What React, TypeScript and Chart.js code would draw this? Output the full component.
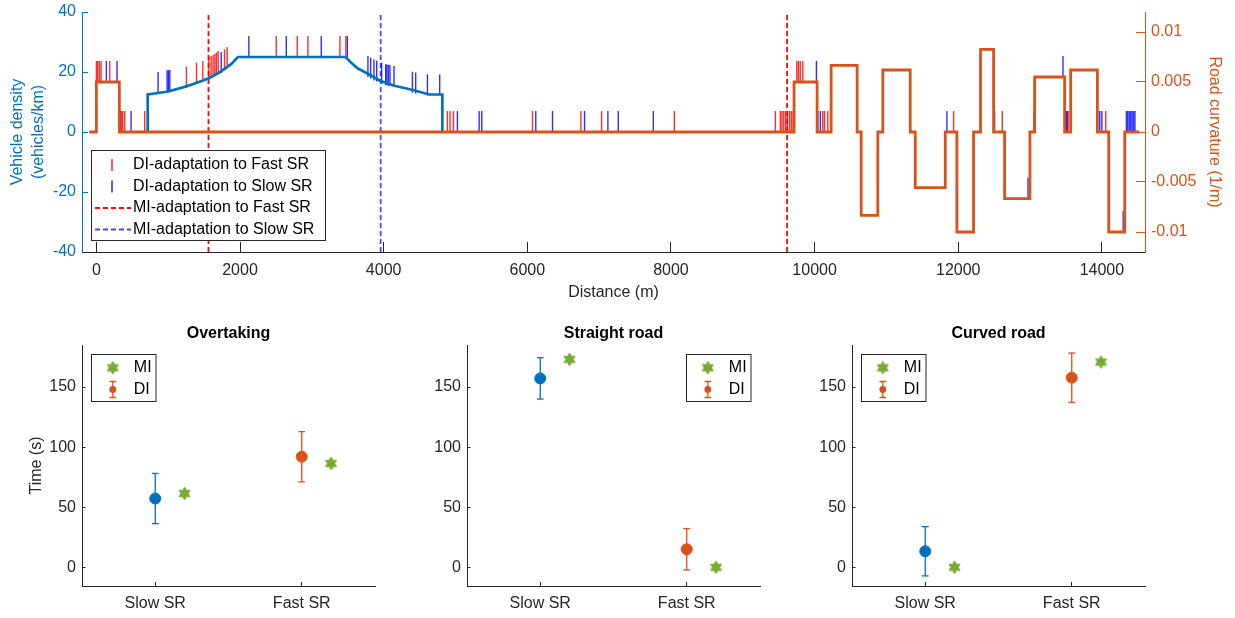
import React, { useEffect, useRef } from 'react';
import { Chart, registerables } from 'chart.js';
Chart.register(...registerables);

const FONT = "'Liberation Sans', Arial, Helvetica, sans-serif";
Chart.defaults.font.family = FONT;
Chart.defaults.font.size = 16;

const BLUE = '#0072BD';
const ORANGE = '#D95319';
const GREEN = '#77AC30';
const AXIS = '#262626';
const FAST_TICK = 'rgba(255,0,0,0.82)';
const SLOW_TICK = 'rgba(0,0,255,0.82)';
const MI_FAST_COLOR = '#FF0000';
const MI_SLOW_COLOR = '#4646FF';

// ---------------- Top chart data ----------------
const DIST_TICKS = [0, 2000, 4000, 6000, 8000, 10000, 12000, 14000];
const DENSITY_TICKS = [-40, -20, 0, 20, 40];
const CURV_TICKS = [-0.01, -0.005, 0, 0.005, 0.01];
const CURV_TICK_LABELS = ['-0.01', '-0.005', '0', '0.005', '0.01'];

// road curvature (1/m), step profile: value holds from x[i] to x[i+1]
const CURV_X = [-100, 0, 320, 9714, 10035, 10230, 10592, 10648, 10880, 10950, 11331, 11401, 11819, 11981, 12213, 12310, 12492, 12645, 12998, 13063, 13481, 13565, 13937, 14095, 14318, 14520];
const CURV_Y = [0, 0.005, 0, 0.005, 0, 0.00667, 0, -0.00833, 0, 0.0062, 0, -0.00557, 0, -0.01, 0, 0.00827, 0, -0.00667, 0, 0.0055, 0, 0.0062, 0, -0.01, 0, 0];

// vehicle density (vehicles/km)
const DENS_X = [715, 715, 859, 1000, 1264, 1400, 1565, 1700, 1775, 1880, 1970, 3470, 3560, 3633, 3781, 3958, 4150, 4422, 4631, 4817, 4817];
const DENS_Y = [0, 12.5, 13.0, 13.5, 15.3, 16.4, 17.9, 19.6, 20.9, 22.7, 25, 25, 22.8, 21.3, 19.4, 17.0, 15.4, 13.9, 12.5, 12.5, 0];

// DI-adaptation events: [distance, marker centre (vehicles/km)]
const DI_FAST: [number, number][] = [
  [0, 20.2], [18, 20.2], [42, 20.2], [65, 20.2], [186, 20.2],
  [348, 3.5], [367, 3.5], [395, 3.5], [673, 3.5],
  [1254, 18.3], [1394, 19.6], [1482, 20.2], [1566, 21.5], [1598, 21.8], [1625, 22.2], [1650, 22.6], [1672, 23.0], [1696, 23.5], [1784, 24.1], [1821, 24.8],
  [2504, 28.5], [2797, 28.5], [2945, 28.5], [3391, 28.5], [3474, 28.5],
  [4887, 3.5], [4924, 3.5], [4971, 3.5], [6072, 3.5], [6746, 3.5], [7034, 3.5], [8047, 3.5],
  [9454, 3.5], [9523, 3.5], [9545, 3.5], [9570, 3.5], [9595, 3.5], [9620, 3.5], [9650, 3.5], [9675, 3.5], [9700, 3.5], [9718, 3.5],
  [9752, 20.2], [9774, 20.2], [9800, 20.2], [9835, 20.2],
  [10114, 3.5], [10137, 3.5], [10183, 3.5], [11935, 3.5], [12613, 3.5], [13055, 3.5], [13530, 3.5], [14053, 3.5],
];
const DI_SLOW: [number, number][] = [
  [139, 20.2], [288, 20.2],
  [334, 3.5], [483, 3.5],
  [859, 16.5], [985, 17.1], [1003, 17.1], [1022, 17.2], [1738, 23.2],
  [2123, 28.5], [2644, 28.5], [3131, 28.5], [3494, 28.5],
  [3781, 21.8], [3819, 21.3], [3865, 20.7], [3903, 20.3], [3972, 19.6], [4028, 19.1], [4045, 19.0], [4066, 18.9], [4088, 18.8], [4144, 18.5],
  [4400, 16.6], [4446, 16.3], [4609, 15.7], [4780, 15.7],
  [5027, 3.5], [5329, 3.5], [5366, 3.5], [6118, 3.5], [6351, 3.5], [6797, 3.5], [7122, 3.5], [7266, 3.5], [7754, 3.5],
  [10025, 20.2], [10044, 3.5], [10080, 3.5],
  [11842, 3.5], [12506, 3.5], [12971, -18.7], [13458, 21.8], [13505, 3.5], [13519, 3.5], [13970, 3.5], [14000, 3.5], [14296, -29.8],
  [14341, 3.5], [14360, 3.5], [14380, 3.5], [14400, 3.5], [14420, 3.5], [14440, 3.5], [14460, 3.5],
];
// MI-adaptation events (distance, m)
const MI_FAST_X = [1561, 9617];
const MI_SLOW_X = [3958];

// ---------------- Bottom panels data ----------------
const CATEGORIES = ['Slow SR', 'Fast SR'];
const TIME_TICKS = [0, 50, 100, 150];
const PANEL_TITLES = ['Overtaking', 'Straight road', 'Curved road'];
const OVERTAKING_DI_MEAN = [57.2, 92];
const OVERTAKING_DI_ERR = [20.9, 20.9];
const OVERTAKING_MI = [61.4, 86.4];
const STRAIGHT_DI_MEAN = [157.2, 15];
const STRAIGHT_DI_ERR = [17.2, 17.2];
const STRAIGHT_MI = [173, 0];
const CURVED_DI_MEAN = [13.3, 157.8];
const CURVED_DI_ERR = [20.5, 20.5];
const CURVED_MI = [0, 170.8];
const DI_COLORS = [BLUE, ORANGE];
const MI_DODGE = 0.2;

function makeHexagram(R: number, color: string): HTMLCanvasElement {
  const size = Math.ceil(R * 2 + 2);
  const c = document.createElement('canvas');
  c.width = size;
  c.height = size;
  const ctx = c.getContext('2d')!;
  const cx = size / 2, cy = size / 2;
  const r = R / Math.sqrt(3);
  ctx.beginPath();
  for (let i = 0; i < 12; i++) {
    const a = -Math.PI / 2 + (i * Math.PI) / 6;
    const rr = i % 2 === 0 ? R : r;
    const px = cx + rr * Math.cos(a), py = cy + rr * Math.sin(a);
    if (i === 0) ctx.moveTo(px, py); else ctx.lineTo(px, py);
  }
  ctx.closePath();
  ctx.fillStyle = color;
  ctx.fill();
  ctx.strokeStyle = color;
  ctx.lineWidth = 0.8;
  ctx.stroke();
  return c;
}

const STAR = makeHexagram(6.5, GREEN);

function vLine(ctx: CanvasRenderingContext2D, x: number, y1: number, y2: number, color: string, w: number) {
  ctx.beginPath();
  ctx.strokeStyle = color;
  ctx.lineWidth = w;
  ctx.moveTo(x, y1);
  ctx.lineTo(x, y2);
  ctx.stroke();
}

const zeroPad = (s: any) => {
  s.paddingTop = 0;
  s.paddingBottom = 0;
  s.paddingLeft = 0;
  s.paddingRight = 0;
};

function TopChart() {
  const ref = useRef<HTMLCanvasElement>(null);
  useEffect(() => {
    const legendPlugin = {
      id: 'topLegend',
      afterDraw(chart: any) {
        const ctx: CanvasRenderingContext2D = chart.ctx;
        ctx.save();
        const bx = 91.5, by = 150.5, bw = 234, bh = 90;
        ctx.fillStyle = '#fff';
        ctx.fillRect(bx, by, bw, bh);
        ctx.strokeStyle = AXIS;
        ctx.lineWidth = 1;
        ctx.strokeRect(bx, by, bw, bh);
        const rows = [165, 186.5, 208, 229.5];
        const labels = ['DI-adaptation to Fast SR', 'DI-adaptation to Slow SR', 'MI-adaptation to Fast SR', 'MI-adaptation to Slow SR'];
        vLine(ctx, 112, rows[0] - 6, rows[0] + 6, '#FF0000', 1.3);
        vLine(ctx, 112, rows[1] - 6, rows[1] + 6, '#0000FF', 1.3);
        ctx.setLineDash([5, 3]);
        ctx.beginPath(); ctx.strokeStyle = MI_FAST_COLOR; ctx.lineWidth = 1.8; ctx.moveTo(95, rows[2]); ctx.lineTo(131, rows[2]); ctx.stroke();
        ctx.beginPath(); ctx.strokeStyle = MI_SLOW_COLOR; ctx.lineWidth = 1.8; ctx.moveTo(95, rows[3]); ctx.lineTo(131, rows[3]); ctx.stroke();
        ctx.setLineDash([]);
        ctx.fillStyle = '#000';
        ctx.font = `16px ${FONT}`;
        ctx.textAlign = 'left';
        ctx.textBaseline = 'middle';
        labels.forEach((t, i) => ctx.fillText(t, 133, rows[i]));
        ctx.restore();
      },
    };

    const miLines = [
      ...MI_FAST_X.map((x) => ({ x, color: MI_FAST_COLOR })),
      ...MI_SLOW_X.map((x) => ({ x, color: MI_SLOW_COLOR })),
    ].map((m) => ({
      data: [{ x: m.x, y: -40 }, { x: m.x, y: 40 }],
      yAxisID: 'y',
      showLine: true,
      borderColor: m.color,
      borderWidth: 1.8,
      borderDash: [5, 3],
      pointRadius: 0,
      order: 5,
    }));

    const chart = new Chart(ref.current!, {
      type: 'scatter',
      data: {
        datasets: [
          {
            data: CURV_X.map((x, i) => ({ x, y: CURV_Y[i] })),
            yAxisID: 'y2',
            showLine: true,
            stepped: true,
            borderColor: ORANGE,
            borderWidth: 2.8,
            pointRadius: 0,
            order: 1,
          } as any,
          {
            data: DENS_X.map((x, i) => ({ x, y: DENS_Y[i] })),
            yAxisID: 'y',
            showLine: true,
            borderColor: BLUE,
            borderWidth: 2.7,
            pointRadius: 0,
            order: 2,
          },
          {
            data: DI_FAST.map(([x, y]) => ({ x, y })),
            yAxisID: 'y',
            pointStyle: 'line',
            pointRotation: 90,
            pointRadius: 10.5,
            pointBorderColor: FAST_TICK,
            pointBorderWidth: 1.4,
            order: 3,
          } as any,
          {
            data: DI_SLOW.map(([x, y]) => ({ x, y })),
            yAxisID: 'y',
            pointStyle: 'line',
            pointRotation: 90,
            pointRadius: 10.5,
            pointBorderColor: SLOW_TICK,
            pointBorderWidth: 1.4,
            order: 4,
          } as any,
          ...miLines,
        ],
      },
      options: {
        responsive: false,
        animation: false,
        devicePixelRatio: 1,
        events: [],
        layout: { padding: { top: 12, left: 0, right: 0, bottom: 0 } },
        plugins: { legend: { display: false }, tooltip: { enabled: false } },
        scales: {
          x: {
            type: 'linear',
            min: -200,
            max: 14600,
            afterBuildTicks: (s: any) => { s.ticks = DIST_TICKS.map((v) => ({ value: v })); },
            afterFit: (s: any) => { s.height = 53; zeroPad(s); },
            ticks: { autoSkip: false, maxRotation: 0, padding: 19, color: AXIS, callback: (v: any) => String(v) },
            grid: { display: true, drawOnChartArea: false, drawTicks: true, tickLength: -10, color: AXIS },
            border: { display: true, color: AXIS, width: 1 },
            title: { display: true, text: 'Distance (m)', color: AXIS, padding: { top: 0, bottom: 2.4 } },
          },
          y: {
            position: 'left',
            min: -40,
            max: 40,
            afterBuildTicks: (s: any) => { s.ticks = DENSITY_TICKS.map((v) => ({ value: v })); },
            afterFit: (s: any) => { s.width = 82; zeroPad(s); },
            ticks: { autoSkip: false, padding: 12, color: BLUE, callback: (v: any) => String(v) },
            grid: { display: true, drawOnChartArea: false, drawTicks: true, tickLength: -6, color: BLUE },
            border: { display: true, color: BLUE, width: 1 },
            title: { display: true, text: ['Vehicle density', '(vehicles/km)'], color: BLUE, font: { size: 16, lineHeight: 1.3 }, padding: { top: 7.6, bottom: 0 } },
          },
          y2: {
            position: 'right',
            min: -0.012,
            max: 0.012,
            afterBuildTicks: (s: any) => { s.ticks = CURV_TICKS.map((v) => ({ value: v })); },
            afterFit: (s: any) => { s.width = 90; zeroPad(s); },
            ticks: { autoSkip: false, padding: 15, color: ORANGE, callback: (_v: any, i: number) => CURV_TICK_LABELS[i] },
            grid: { display: true, drawOnChartArea: false, drawTicks: true, tickLength: -9, color: ORANGE },
            border: { display: true, color: ORANGE, width: 1 },
            title: { display: true, text: 'Road curvature (1/m)', color: ORANGE, padding: { top: 11.4, bottom: 0 } },
          },
        },
      } as any,
      plugins: [legendPlugin],
    });
    return () => chart.destroy();
  }, []);
  return <canvas ref={ref} width={1235} height={305} style={{ position: 'absolute', left: 0, top: 0, width: 1235, height: 305 }} />;
}

type PanelProps = {
  left: number;
  title: string;
  mean: number[];
  err: number[];
  mi: number[];
  yTitle: boolean;
  legendSide: 'left' | 'right';
};

function Panel({ left, title, mean, err, mi, yTitle, legendSide }: PanelProps) {
  const ref = useRef<HTMLCanvasElement>(null);
  useEffect(() => {
    const decor = {
      id: 'panelDecor',
      afterDraw(chart: any) {
        const ctx: CanvasRenderingContext2D = chart.ctx;
        const ca = chart.chartArea;
        ctx.save();
        ctx.fillStyle = '#000';
        ctx.font = `bold 16px ${FONT}`;
        ctx.textAlign = 'center';
        ctx.textBaseline = 'middle';
        ctx.fillText(title, (ca.left + ca.right) / 2, ca.top - 11.5);
        const bw = 64.5, bh = 47;
        const bx = Math.round(legendSide === 'left' ? ca.left + 9 : ca.right - 9.3 - bw) + 0.5;
        const by = Math.round(ca.top + 9) + 0.5;
        ctx.fillStyle = '#fff';
        ctx.fillRect(bx, by, bw, bh);
        ctx.strokeStyle = AXIS;
        ctx.lineWidth = 1;
        ctx.strokeRect(bx, by, bw, bh);
        const mx = bx + 21.3;
        const r1 = by + 13.3, r2 = by + 35;
        ctx.drawImage(STAR, mx - STAR.width / 2, r1 - STAR.height / 2);
        vLine(ctx, mx, r2 - 8, r2 + 8, ORANGE, 1.3);
        ctx.beginPath(); ctx.moveTo(mx - 3.3, r2 - 8); ctx.lineTo(mx + 3.3, r2 - 8); ctx.moveTo(mx - 3.3, r2 + 8); ctx.lineTo(mx + 3.3, r2 + 8); ctx.stroke();
        ctx.beginPath(); ctx.fillStyle = ORANGE; ctx.arc(mx, r2, 3.4, 0, Math.PI * 2); ctx.fill();
        ctx.fillStyle = '#000';
        ctx.font = `16px ${FONT}`;
        ctx.textAlign = 'left';
        ctx.fillText('MI', bx + 42.3, r1);
        ctx.fillText('DI', bx + 42.3, r2);
        ctx.restore();
      },
    };

    const errSets = CATEGORIES.map((_, i) => ({
      data: [{ x: i + 1, y: mean[i] - err[i] }, { x: i + 1, y: mean[i] + err[i] }],
      showLine: true,
      borderColor: DI_COLORS[i],
      borderWidth: 1.3,
      pointStyle: 'line',
      pointRadius: 3.4,
      pointBorderColor: DI_COLORS[i],
      pointBorderWidth: 1.3,
      order: 3,
    }));

    const chart = new Chart(ref.current!, {
      type: 'scatter',
      data: {
        datasets: [
          {
            data: mi.map((v, i) => ({ x: i + 1 + MI_DODGE, y: v })),
            pointStyle: STAR,
            pointRadius: 6,
            order: 1,
          } as any,
          {
            data: mean.map((v, i) => ({ x: i + 1, y: v })),
            pointStyle: 'circle',
            pointRadius: 5.5,
            pointBackgroundColor: DI_COLORS,
            pointBorderColor: DI_COLORS,
            pointBorderWidth: 1,
            order: 2,
          },
          ...(errSets as any[]),
        ],
      },
      options: {
        responsive: false,
        animation: false,
        devicePixelRatio: 1,
        events: [],
        layout: { padding: { top: 30, left: 0, right: 10, bottom: 0 } },
        plugins: { legend: { display: false }, tooltip: { enabled: false } },
        scales: {
          x: {
            type: 'linear',
            min: 0.5,
            max: 2.5,
            afterBuildTicks: (s: any) => { s.ticks = CATEGORIES.map((_, i) => ({ value: i + 1 })); },
            afterFit: (s: any) => { s.height = 32; },
            ticks: { autoSkip: false, maxRotation: 0, padding: 11.9, color: AXIS, callback: (_v: any, i: number) => CATEGORIES[i] },
            grid: { display: true, drawOnChartArea: false, drawTicks: true, tickLength: -4, color: AXIS },
            border: { display: true, color: AXIS, width: 1 },
          },
          y: {
            min: -15.6,
            max: 185,
            afterBuildTicks: (s: any) => { s.ticks = TIME_TICKS.map((v) => ({ value: v })); },
            afterFit: (s: any) => { s.width = 82; },
            ticks: { autoSkip: false, padding: 9.5, color: AXIS, callback: (v: any) => String(v) },
            grid: { display: true, drawOnChartArea: false, drawTicks: true, tickLength: -3.5, color: AXIS },
            border: { display: true, color: AXIS, width: 1 },
            title: { display: yTitle, text: 'Time (s)', color: AXIS, padding: { top: 27, bottom: 0 } },
          },
        },
      } as any,
      plugins: [decor],
    });
    return () => chart.destroy();
  }, []);
  return <canvas ref={ref} width={385} height={303} style={{ position: 'absolute', left, top: 315, width: 385, height: 303 }} />;
}

export default function App() {
  return (
    <div style={{ position: 'absolute', left: 0, top: 0, width: 1235, height: 618, background: '#fff', overflow: 'hidden' }}>
      <TopChart />
      <Panel left={0} title={PANEL_TITLES[0]} mean={OVERTAKING_DI_MEAN} err={OVERTAKING_DI_ERR} mi={OVERTAKING_MI} yTitle={true} legendSide="left" />
      <Panel left={385} title={PANEL_TITLES[1]} mean={STRAIGHT_DI_MEAN} err={STRAIGHT_DI_ERR} mi={STRAIGHT_MI} yTitle={false} legendSide="right" />
      <Panel left={770} title={PANEL_TITLES[2]} mean={CURVED_DI_MEAN} err={CURVED_DI_ERR} mi={CURVED_MI} yTitle={false} legendSide="left" />
    </div>
  );
}
